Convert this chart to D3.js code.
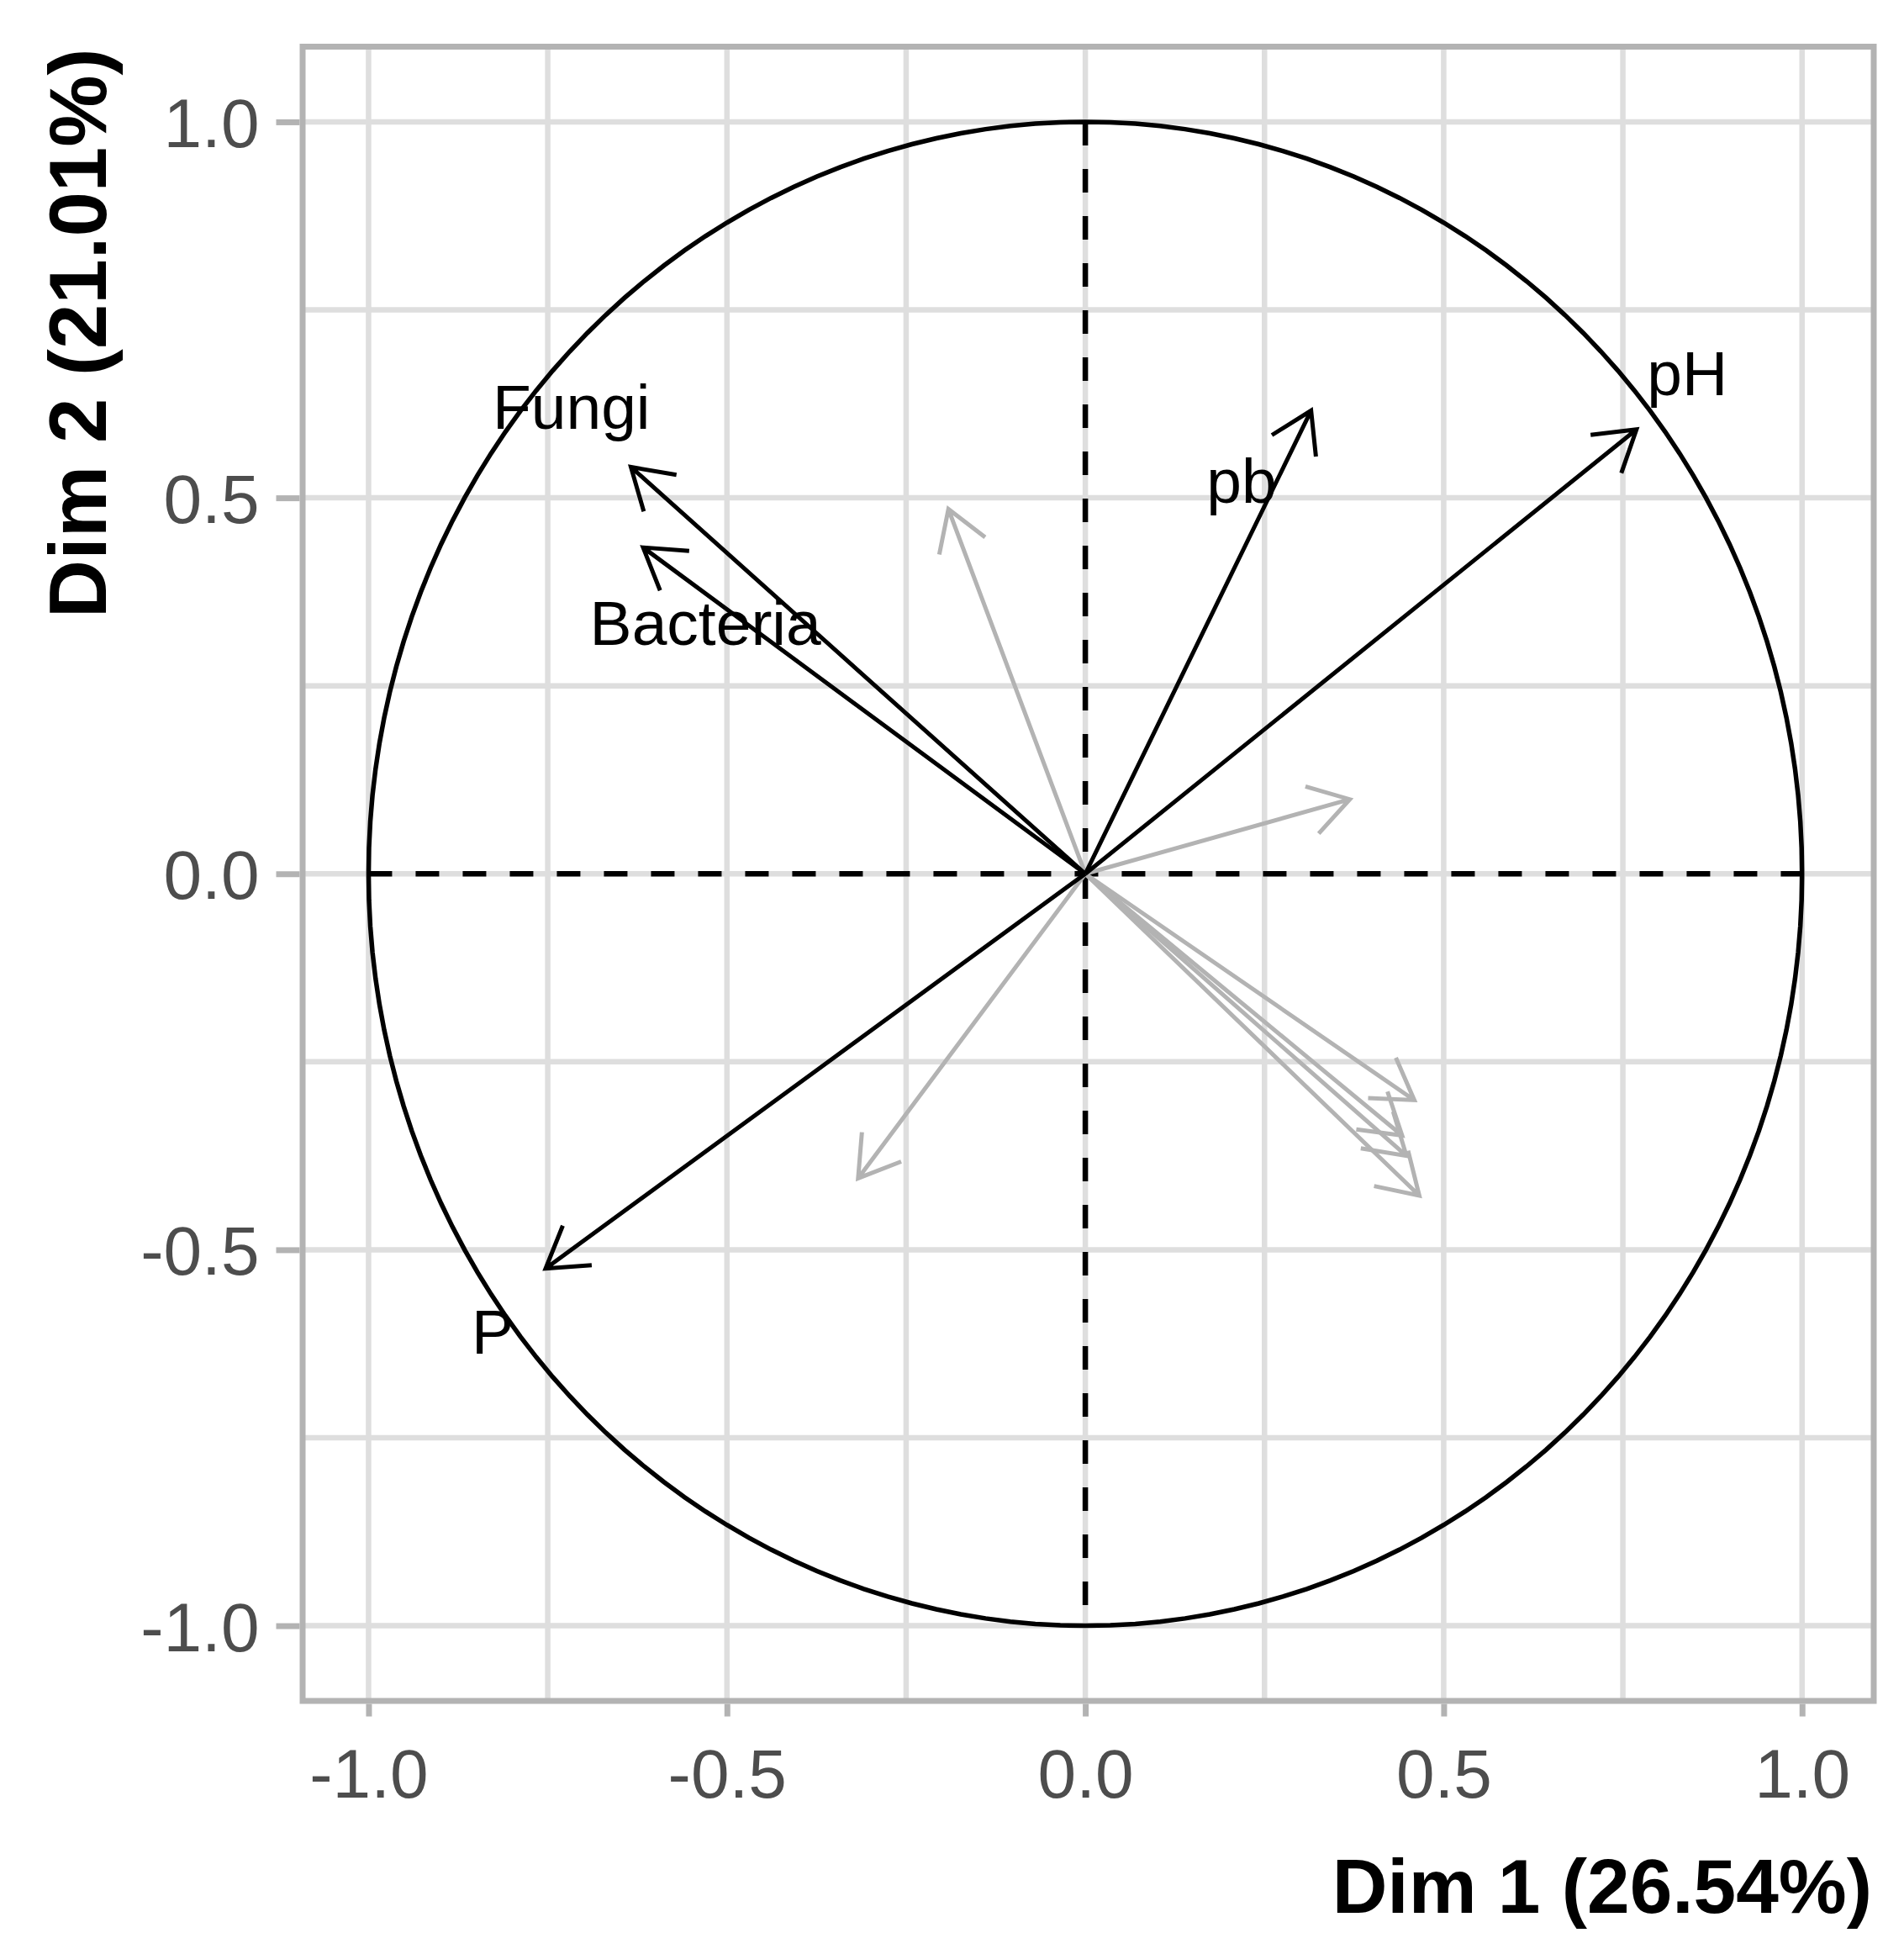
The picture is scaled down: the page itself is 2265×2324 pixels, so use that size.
<!DOCTYPE html>
<html>
<head>
<meta charset="utf-8">
<script src="https://d3js.org/d3.v7.min.js"></script>
<style>
  body { margin: 0; background: #fff; }
  text { font-family: "Liberation Sans", Arial, sans-serif; }
</style>
</head>
<body>
<svg width="2265" height="2324"></svg>
<script>
// active variables (black arrows)
var activeNames = ["pH", "pb", "Fungi", "Bacteria", "P"];
var activeDim1 = [0.769, 0.315, -0.634, -0.617, -0.753];
var activeDim2 = [0.591, 0.616, 0.541, 0.434, -0.525];

// where the labels ended up (repelled), in data units
var labelDim1 = [0.840, 0.218, -0.717, -0.530, -0.827];
var labelDim2 = [0.636, 0.493, 0.592, 0.304, -0.638];

// supplementary variables (grey arrows, unlabelled)
var supDim1 = [-0.191, 0.369, -0.317, 0.459, 0.442, 0.448, 0.466];
var supDim2 = [0.485, 0.099, -0.405, -0.301, -0.348, -0.375, -0.428];

var tickValues = [-1, -0.5, 0, 0.5, 1];
var gridValues = [-1, -0.75, -0.5, -0.25, 0, 0.25, 0.5, 0.75, 1];

var xTitle = "Dim 1 (26.54%)";
var yTitle = "Dim 2 (21.01%)";

var svg = d3.select("svg");
var width = +svg.attr("width");
var height = +svg.attr("height");
var margin = {top: 55.5, right: 36, bottom: 301, left: 360};

var x = d3.scaleLinear()
    .domain([-1.092, 1.1])
    .range([margin.left, width - margin.right]);
var y = d3.scaleLinear()
    .domain([-1.1, 1.1])
    .range([height - margin.bottom, margin.top]);

// plain hyphen minus, like R does
function fmt(d) { return d.toFixed(1); }

// grid
var grid = svg.append("g").attr("class", "grid");
grid.selectAll("line.v")
    .data(gridValues)
    .enter().append("line")
      .attr("class", "v")
      .attr("x1", function(d) { return x(d); })
      .attr("x2", function(d) { return x(d); })
      .attr("y1", y.range()[0])
      .attr("y2", y.range()[1])
      .attr("stroke", "#dedede")
      .attr("stroke-width", 6.5);
grid.selectAll("line.h")
    .data(gridValues)
    .enter().append("line")
      .attr("class", "h")
      .attr("y1", function(d) { return y(d); })
      .attr("y2", function(d) { return y(d); })
      .attr("x1", x.range()[0])
      .attr("x2", x.range()[1])
      .attr("stroke", "#dedede")
      .attr("stroke-width", 6.5);

// axes
var xAxis = svg.append("g")
    .attr("transform", "translate(0," + (y.range()[0] + 3.5) + ")")
    .call(d3.axisBottom(x).tickValues(tickValues).tickFormat(fmt)
      .tickSize(15).tickSizeOuter(0).tickPadding(38));
var yAxis = svg.append("g")
    .attr("transform", "translate(" + (x.range()[0] - 3.5) + ",0)")
    .call(d3.axisLeft(y).tickValues(tickValues).tickFormat(fmt)
      .tickSize(28).tickSizeOuter(0).tickPadding(20));

[xAxis, yAxis].forEach(function(a) {
  a.select(".domain").remove();
  a.selectAll(".tick line").attr("stroke", "#b3b3b3").attr("stroke-width", 7);
  a.selectAll(".tick text")
      .attr("fill", "#4d4d4d")
      .style("font-size", "82px")
      .style("font-family", "'Liberation Sans', Arial, sans-serif");
});
yAxis.selectAll(".tick text").attr("dy", "0.36em");
xAxis.selectAll(".tick text").attr("dy", "0.71em");

// panel border
svg.append("rect")
    .attr("x", x.range()[0])
    .attr("y", y.range()[1])
    .attr("width", x.range()[1] - x.range()[0])
    .attr("height", y.range()[0] - y.range()[1])
    .attr("fill", "none")
    .attr("stroke", "#b3b3b3")
    .attr("stroke-width", 7);

// correlation circle
var angles = d3.range(0, 361, 2);
var circle = d3.line()
    .x(function(a) { return x(Math.cos(a * Math.PI / 180)); })
    .y(function(a) { return y(Math.sin(a * Math.PI / 180)); });
svg.append("path")
    .attr("d", circle(angles))
    .attr("fill", "none")
    .attr("stroke", "#000")
    .attr("stroke-width", 5.5);

// dashed zero lines
svg.append("line")
    .attr("x1", x(-1)).attr("x2", x(1))
    .attr("y1", y(0)).attr("y2", y(0))
    .attr("stroke", "#000").attr("stroke-width", 6.5)
    .attr("stroke-dasharray", "28,28");
svg.append("line")
    .attr("x1", x(0)).attr("x2", x(0))
    .attr("y1", y(1)).attr("y2", y(-1))
    .attr("stroke", "#000").attr("stroke-width", 6.5)
    .attr("stroke-dasharray", "28,28");

// open arrow from origin to (dx, dy)
function arrowPath(dx, dy) {
  var x0 = x(0), y0 = y(0);
  var x1 = x(dx), y1 = y(dy);
  var ang = Math.atan2(y0 - y1, x0 - x1);
  var len = 55, spread = 32 * Math.PI / 180;
  var ax = x1 + len * Math.cos(ang + spread), ay = y1 + len * Math.sin(ang + spread);
  var bx = x1 + len * Math.cos(ang - spread), by = y1 + len * Math.sin(ang - spread);
  return "M" + x0 + "," + y0 + "L" + x1 + "," + y1 +
         "M" + ax + "," + ay + "L" + x1 + "," + y1 + "L" + bx + "," + by;
}

svg.append("g").selectAll("path")
    .data(supDim1)
    .enter().append("path")
      .attr("d", function(d, i) { return arrowPath(supDim1[i], supDim2[i]); })
      .attr("fill", "none")
      .attr("stroke", "#b3b3b3")
      .attr("stroke-width", 5);

svg.append("g").selectAll("path")
    .data(activeNames)
    .enter().append("path")
      .attr("d", function(d, i) { return arrowPath(activeDim1[i], activeDim2[i]); })
      .attr("fill", "none")
      .attr("stroke", "#000")
      .attr("stroke-width", 5);

svg.append("g").selectAll("text")
    .data(activeNames)
    .enter().append("text")
      .attr("x", function(d, i) { return x(labelDim1[i]); })
      .attr("y", function(d, i) { return y(labelDim2[i]); })
      .attr("text-anchor", "middle")
      .style("font-size", "75px")
      .attr("fill", "#000")
      .text(function(d) { return d; });

// axis titles, pushed to the ends like the original
svg.append("text")
    .attr("x", x.range()[1] - 2)
    .attr("y", 2275)
    .attr("text-anchor", "end")
    .style("font-size", "91px")
    .style("font-weight", "bold")
    .text(xTitle);

svg.append("text")
    .attr("transform", "translate(126," + (y.range()[1] + 2) + ") rotate(-90)")
    .attr("text-anchor", "end")
    .style("font-size", "96px")
    .style("font-weight", "bold")
    .text(yTitle);
</script>
</body>
</html>
